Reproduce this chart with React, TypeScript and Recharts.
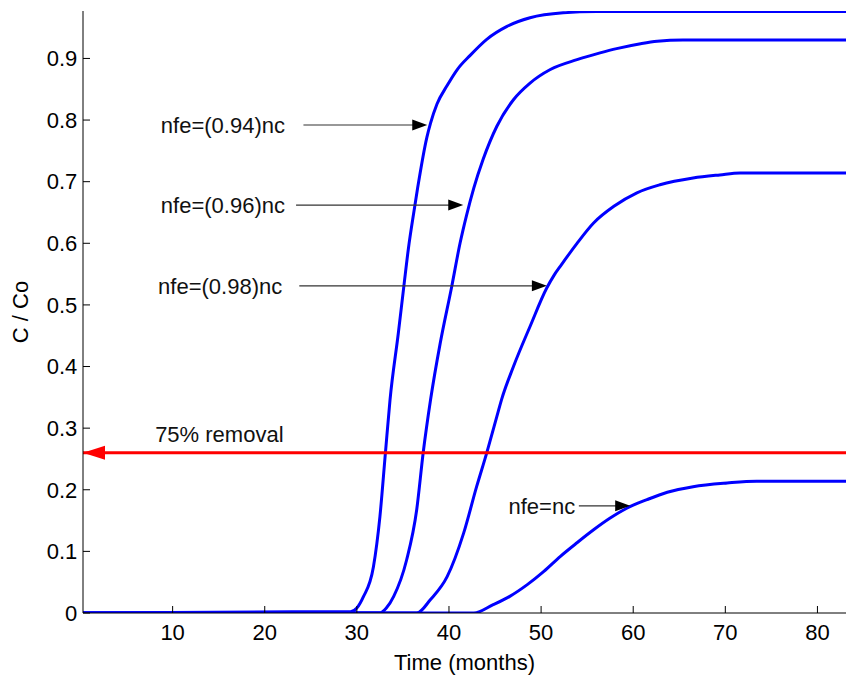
import { LineChart, Line, XAxis, YAxis, ReferenceLine, ReferenceDot } from "recharts";

const FONT = "'Liberation Sans', Arial, Helvetica, sans-serif";

const X_TICKS = [10, 20, 30, 40, 50, 60, 70, 80];
const Y_TICKS = [0, 0.1, 0.2, 0.3, 0.4, 0.5, 0.6, 0.7, 0.8, 0.9];

// nfe = (0.94) nc
const T_094 = [0, 25.3, 29.3, 30.0, 30.7, 31.8, 32.5, 33.1, 33.6, 34.5, 35.1, 35.6, 36.2, 36.6, 37.6, 38.0, 38.7, 39.8, 40.9, 42.3, 44.1, 46.3, 48.8, 52.4, 56, 83.1];
const C_094 = [0, 0.002, 0.002, 0.008, 0.026, 0.075, 0.156, 0.26, 0.346, 0.454, 0.53, 0.592, 0.652, 0.69, 0.772, 0.795, 0.826, 0.856, 0.882, 0.905, 0.931, 0.952, 0.966, 0.974, 0.976, 0.976];

// nfe = (0.96) nc
const T_096 = [0, 32.5, 33.2, 34.0, 35.4, 36.5, 37.2, 38.0, 39.05, 40.3, 41.2, 41.9, 42.7, 43.7, 45.2, 47.0, 48.8, 51.0, 53.9, 56.4, 58.2, 60.8, 62.6, 65.4, 83.1];
const C_096 = [0, 0, 0.008, 0.027, 0.086, 0.168, 0.26, 0.346, 0.438, 0.53, 0.6, 0.645, 0.69, 0.736, 0.79, 0.833, 0.86, 0.882, 0.898, 0.909, 0.916, 0.924, 0.928, 0.93, 0.93];

// nfe = (0.98) nc
const T_098 = [0, 36.5, 38.0, 39.8, 41.6, 43.0, 44.1, 45.2, 45.7, 47.0, 48.8, 50.6, 51.4, 52.1, 53.9, 55.7, 57.9, 60.4, 62.9, 66.5, 69.4, 71.6, 83.1];
const C_098 = [0, 0, 0.022, 0.059, 0.13, 0.205, 0.26, 0.319, 0.346, 0.4, 0.465, 0.527, 0.548, 0.563, 0.6, 0.633, 0.66, 0.682, 0.695, 0.706, 0.711, 0.714, 0.714];

// nfe = nc
const T_100 = [0, 42.7, 44.8, 46.6, 48.5, 50.3, 52.1, 53.9, 55.7, 57.5, 59.3, 61.5, 63.7, 66.5, 70.2, 73.4, 83.1];
const C_100 = [0, 0, 0.0135, 0.027, 0.046, 0.0675, 0.092, 0.114, 0.135, 0.154, 0.17, 0.184, 0.196, 0.205, 0.211, 0.214, 0.214];

const REMOVAL_LEVEL = 0.26;
const REMOVAL_TEXT = "75% removal";
const REMOVAL_TEXT_AT = { x: 8.1, y: 0.291 };

// annotation arrows
const LABELS = ["nfe=(0.94)nc", "nfe=(0.96)nc", "nfe=(0.98)nc", "nfe=nc"];
const LABEL_END = [22.2, 22.2, 21.9, 53.7];
const ARROW_FROM = [24.2, 23.4, 23.75, 54.1];
const ARROW_TO = [37.64, 41.55, 50.63, 59.67];
const ARROW_Y = [0.792, 0.662, 0.531, 0.174];

const X_DOMAIN = [0.27, 83.1];
const Y_DOMAIN = [0, 0.977];

const toRows = (t: number[], c: number[]) => t.map((x, i) => ({ t: x, c: c[i] }));

const SERIES = [
  toRows(T_094, C_094),
  toRows(T_096, C_096),
  toRows(T_098, C_098),
  toRows(T_100, C_100),
];

const tickStyle = { fill: "#000", fontSize: 22, fontFamily: FONT };

const blackHead = (p: any) => (
  <path d={`M${p.cx},${p.cy} L${p.cx - 15},${p.cy - 5.5} L${p.cx - 15},${p.cy + 5.5} Z`} fill="#000" />
);

const redHead = (p: any) => (
  <path d={`M${p.cx},${p.cy} L${p.cx + 22},${p.cy - 7} L${p.cx + 22},${p.cy + 7} Z`} fill="#ff0000" />
);

const textShape = (value: string, anchor: "start" | "end") => (p: any) => (
  <text x={p.cx} y={p.cy} dy="0.36em" textAnchor={anchor} fontSize={22} fontFamily={FONT} fill="#111">
    {value}
  </text>
);

export default function App() {
  return (
    <div style={{ width: 846, height: 675 }}>
      <style>{"body{margin:0}"}</style>
      <LineChart width={846} height={675} margin={{ top: 11, right: 0, bottom: 0, left: 0 }}>
        <XAxis
          type="number"
          dataKey="t"
          domain={X_DOMAIN}
          allowDataOverflow
          ticks={X_TICKS}
          height={62}
          tickSize={-7}
          tickMargin={18.5}
          tick={tickStyle}
          stroke="#000"
          label={{ value: "Time (months)", position: "insideBottom", offset: 5, fill: "#000", fontSize: 22, fontFamily: FONT }}
        />
        <XAxis
          xAxisId="top"
          orientation="top"
          type="number"
          domain={X_DOMAIN}
          allowDataOverflow
          ticks={X_TICKS}
          height={0}
          tickSize={-7}
          tick={() => <g />}
          stroke="#000"
        />
        <YAxis
          type="number"
          domain={Y_DOMAIN}
          allowDataOverflow
          ticks={Y_TICKS}
          width={83}
          tickSize={-7}
          tickMargin={12.7}
          tick={tickStyle}
          tickFormatter={(v: number) => (v === 0 ? "0" : v.toFixed(1))}
          stroke="#000"
          label={{
            value: "C / Co",
            angle: -90,
            position: "insideLeft",
            offset: 20,
            fill: "#000",
            fontSize: 22,
            fontFamily: FONT,
            style: { textAnchor: "middle" },
          }}
        />
        <YAxis
          yAxisId="right"
          orientation="right"
          type="number"
          domain={Y_DOMAIN}
          allowDataOverflow
          ticks={Y_TICKS}
          width={0}
          tickSize={-7}
          tick={() => <g />}
          axisLine={false}
          stroke="#000"
        />
        {SERIES.map((rows, i) => (
          <Line
            key={i}
            data={rows}
            dataKey="c"
            type="monotone"
            stroke="#0000ff"
            strokeWidth={3}
            dot={false}
            isAnimationActive={false}
          />
        ))}
        <ReferenceLine y={REMOVAL_LEVEL} stroke="#ff0000" strokeWidth={3} />
        <ReferenceDot x={X_DOMAIN[0]} y={REMOVAL_LEVEL} shape={redHead} ifOverflow="visible" />
        <ReferenceDot
          x={REMOVAL_TEXT_AT.x}
          y={REMOVAL_TEXT_AT.y}
          shape={textShape(REMOVAL_TEXT, "start")}
        />
        {LABELS.map((label, i) => (
          <ReferenceLine
            key={`seg-${i}`}
            segment={[
              { x: ARROW_FROM[i], y: ARROW_Y[i] },
              { x: ARROW_TO[i] - 1, y: ARROW_Y[i] },
            ]}
            stroke="#333"
            strokeWidth={1.2}
          />
        ))}
        {LABELS.map((label, i) => (
          <ReferenceDot key={`head-${i}`} x={ARROW_TO[i]} y={ARROW_Y[i]} shape={blackHead} />
        ))}
        {LABELS.map((label, i) => (
          <ReferenceDot
            key={`txt-${i}`}
            x={LABEL_END[i]}
            y={ARROW_Y[i]}
            shape={textShape(label, "end")}
          />
        ))}
      </LineChart>
    </div>
  );
}
